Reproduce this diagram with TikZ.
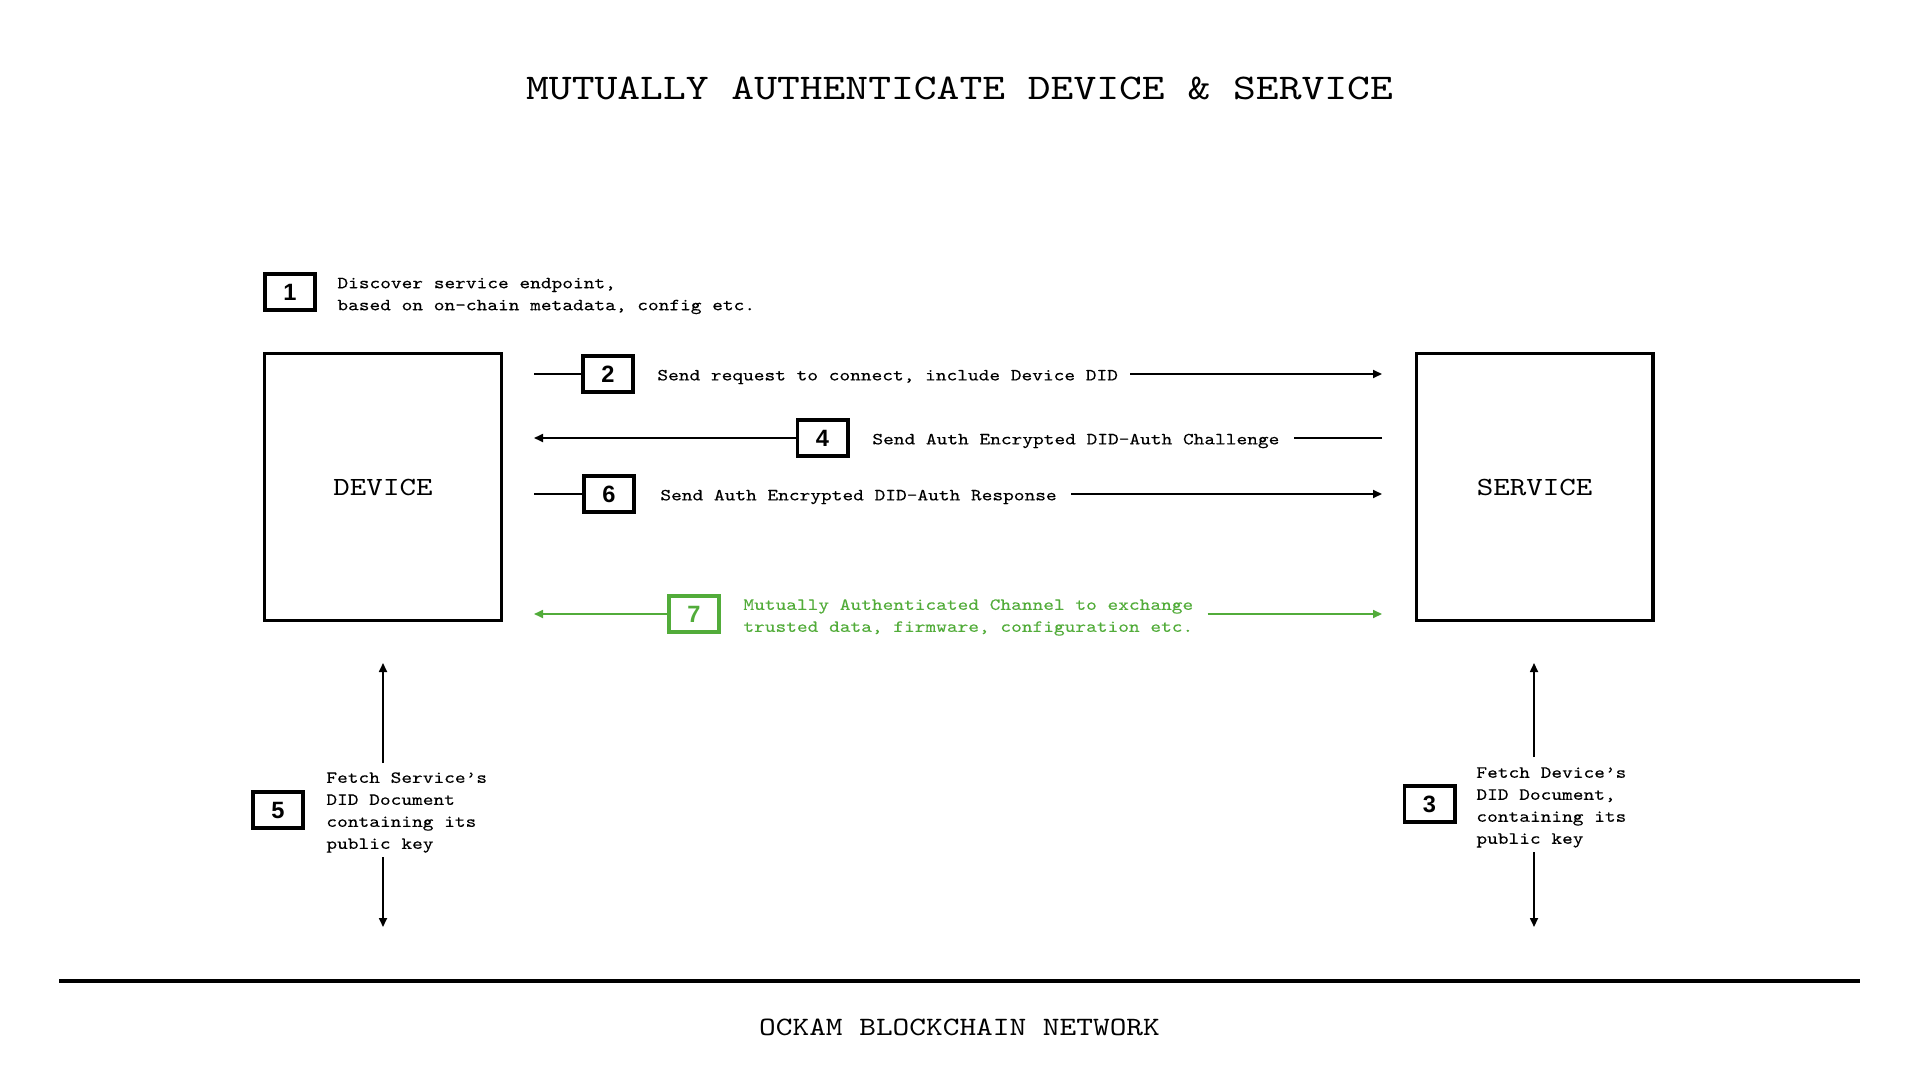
\documentclass[tikz,border=0pt]{standalone}
\usepackage{fontspec}
\usetikzlibrary{arrows.meta}
\newfontfamily\cour{lmmono10-regular.otf}[FakeStretch=1.2]
\newfontfamily\courb{lmmono10-regular.otf}[FakeStretch=1.2,FakeBold=0.2]
\newfontfamily\numfont{Liberation Sans}
\definecolor{okgreen}{RGB}{82,172,58}
\begin{document}
\begin{tikzpicture}[x=0.5pt,y=-0.5pt,
  numbox/.style={draw, line width=1.8pt, minimum width=25.2pt, minimum height=18.2pt, inner sep=0pt,
    font=\numfont\bfseries\fontsize{11.8}{12}\selectfont},
  bigbox/.style={draw, line width=1.7pt, minimum width=118.3pt, minimum height=133.3pt, inner sep=0pt,
    font=\cour\fontsize{13.1}{14}\selectfont},
  body/.style={anchor=west, inner sep=0pt, align=left, font=\courb\fontsize{8.5}{11}\selectfont},
  ln/.style={line width=0.85pt},
  arr/.style={line width=0.85pt, -{Triangle[length=4.5pt,width=4pt]}},
  grn/.style={draw=okgreen, text=okgreen}
]
\useasboundingbox (0,0) rectangle (1920,1080);

% title and footer
\node[inner sep=0pt, font=\cour\fontsize{18.1}{20}\selectfont] (title) at (959.5,88) {MUTUALLY AUTHENTICATE DEVICE \& SERVICE};
\node[inner sep=0pt, font=\cour\fontsize{13.25}{15}\selectfont] (footer) at (959.5,1027) {OCKAM BLOCKCHAIN NETWORK};

% main boxes
\node[bigbox] (dev) at (383,487) {\raisebox{-1pt}{DEVICE}};
\node[bigbox] (srv) at (1534.5,487) {\raisebox{-1pt}{SERVICE}};

% step 1
\node[numbox] (n1) at (290,292) {1};
\node[body] (t1) at (337,296) {Discover service endpoint,\\based on on-chain metadata, config etc.};

% arrow end coordinates
\coordinate (a2l) at (534,374);  \coordinate (a2r) at (1382,374);
\coordinate (a4l) at (534,438);  \coordinate (a4r) at (1382,438);
\coordinate (a6l) at (534,494);  \coordinate (a6r) at (1382,494);
\coordinate (a7l) at (534,614);  \coordinate (a7r) at (1382,614);

% step 2
\node[numbox] (n2) at (608,374) {2};
\node[body] (t2) at (657,377) {Send request to connect, include Device DID};
\draw[ln] (a2l) -- (n2.west);
\path (t2.east |- a2r) coordinate (t2e);
\draw[arr] ([xshift=6pt]t2e) -- (a2r);

% step 4
\node[numbox] (n4) at (822.5,438) {4};
\node[body] (t4) at (872,441) {Send Auth Encrypted DID-Auth Challenge};
\path (t4.east |- a4r) coordinate (t4e);
\draw[ln] (a4r) -- ([xshift=7pt]t4e);
\draw[arr] (n4.west) -- (a4l);

% step 6
\node[numbox] (n6) at (609,494) {6};
\node[body] (t6) at (660,497) {Send Auth Encrypted DID-Auth Response};
\draw[ln] (a6l) -- (n6.west);
\path (t6.east |- a6r) coordinate (t6e);
\draw[arr] ([xshift=7pt]t6e) -- (a6r);

% step 7
\node[numbox, grn] (n7) at (694,614) {7};
\node[body, text=okgreen] (t7) at (743,617.5) {Mutually Authenticated Channel to exchange\\trusted data, firmware, configuration etc.};
\draw[arr, okgreen] (n7.west) -- (a7l);
\path (t7.east |- a7r) coordinate (t7e);
\draw[arr, okgreen] ([xshift=7pt]t7e) -- (a7r);

% step 5
\node[numbox] (n5) at (278,810) {5};
\node[body] (t5) at (326,812.5) {Fetch Service’s\\DID Document\\containing its\\public key};
\coordinate (v5a) at (383,763); \coordinate (v5b) at (383,663);
\coordinate (v5c) at (383,857); \coordinate (v5d) at (383,927);
\draw[arr] (v5a) -- (v5b);
\draw[arr] (v5c) -- (v5d);

% step 3
\node[numbox] (n3) at (1429.5,804) {3};
\node[body] (t3) at (1476,807.5) {Fetch Device’s\\DID Document,\\containing its\\public key};
\coordinate (v3a) at (1534,757); \coordinate (v3b) at (1534,663);
\coordinate (v3c) at (1534,852); \coordinate (v3d) at (1534,927);
\draw[arr] (v3a) -- (v3b);
\draw[arr] (v3c) -- (v3d);

% blockchain line
\coordinate (bl) at (59,981); \coordinate (br) at (1860,981);
\draw[line width=2pt] (bl) -- (br);
\end{tikzpicture}
\end{document}
